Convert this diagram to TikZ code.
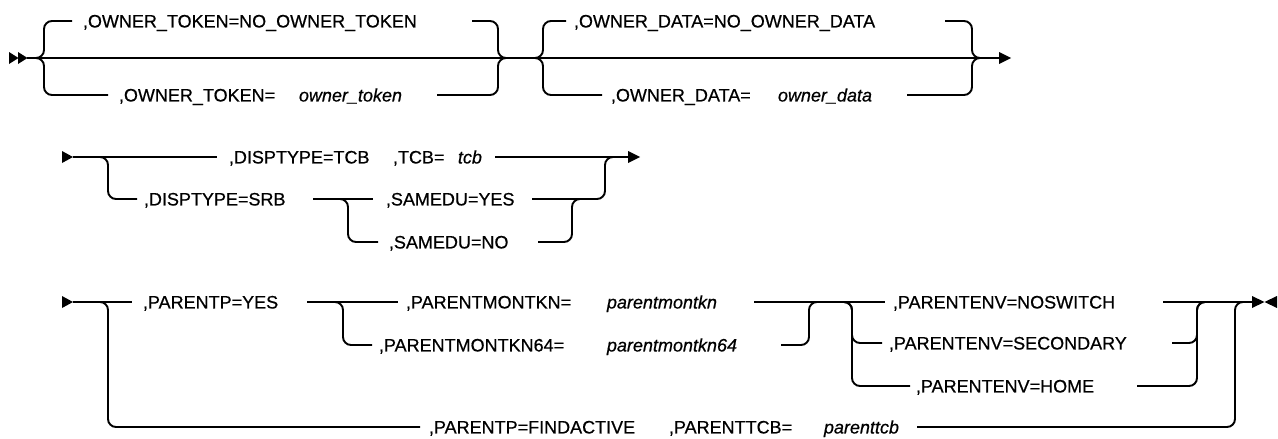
\documentclass[tikz,border=0pt]{standalone}
\usepackage{fontspec}
\setmainfont{Liberation Sans}[FakeBold=0.6]
\begin{document}
\begin{tikzpicture}[x=1pt,y=-1pt,line width=1.9pt,
  rc/.style={rounded corners=8pt},
  kw/.style={anchor=west,inner sep=0pt,text height=12.9pt,text depth=0pt,font=\fontsize{18}{20}\selectfont},
  var/.style={kw,font=\fontsize{18}{20}\selectfont\itshape}]
\useasboundingbox (0,0) rectangle (1278,439);

% ---------- Row 1 ----------
\node[kw] (ot1) at (82,21) {,OWNER\_TOKEN=NO\_OWNER\_TOKEN};
\node[kw] (ot2) at (118,95) {,OWNER\_TOKEN=};
\node[var] (ot2v) at (298,95) {owner\_token};
\node[kw] (od1) at (573,21) {,OWNER\_DATA=NO\_OWNER\_DATA};
\node[kw] (od2) at (610,95) {,OWNER\_DATA=};
\node[var] (od2v) at (777,95) {owner\_data};

\coordinate (r1s) at (27,58);
\coordinate (r1e) at (1001,58);
\fill (9,52) -- (18.5,58) -- (9,64) -- cycle;
\fill (18,52) -- (27.5,58) -- (18,64) -- cycle;
\draw (r1s) -- (r1e);
\fill (999,52) -- (1011,58) -- (999,64) -- cycle;

\draw[rc] (34,58) -| (44,21) -- (72,21);
\draw[rc] (34,58) -| (44,95) -- (108,95);
\draw[rc] (472,21) -| (498,58) -- (508,58);
\draw[rc] (437,95) -| (498,58) -- (508,58);

\draw[rc] (533,58) -| (543,21) -- (566,21);
\draw[rc] (533,58) -| (543,95) -- (602,95);
\draw[rc] (945,21) -| (972,58) -- (982,58);
\draw[rc] (907,95) -| (972,58) -- (982,58);

% ---------- Row 2 ----------
\node[kw] (dt1) at (228,157) {,DISPTYPE=TCB};
\node[kw] (tcbk) at (392,157) {,TCB=};
\node[var] (tcbv) at (457,157) {tcb};
\node[kw] (dt2) at (143,199) {,DISPTYPE=SRB};
\node[kw] (sy) at (385,199) {,SAMEDU=YES};
\node[kw] (sn) at (388,242) {,SAMEDU=NO};

\fill (62,151) -- (73,157) -- (62,163) -- cycle;
\draw (73,157) -- (217,157);
\draw (495,157) -- (630,157);
\fill (628,151) -- (640,157) -- (628,163) -- cycle;
\draw[rc] (98,157) -| (108,199) -- (137,199);
\draw (313,199) -- (373,199);
\draw[rc] (338,199) -| (348,242) -- (378,242);
\draw[rc] (532,199) -| (605,157) -- (615,157);
\draw[rc] (538,242) -| (572,199) -- (582,199);

% ---------- Row 3 ----------
\node[kw] (py) at (142,302) {,PARENTP=YES};
\node[kw] (pm) at (405,302) {,PARENTMONTKN=};
\node[var] (pmv) at (606,302) {parentmontkn};
\node[kw] (pm64) at (378,345) {,PARENTMONTKN64=};
\node[var] (pm64v) at (606,345) {parentmontkn64};
\node[kw] (pe1) at (892,302) {,PARENTENV=NOSWITCH};
\node[kw] (pe2) at (888,343) {,PARENTENV=SECONDARY};
\node[kw] (pe3) at (915,386) {,PARENTENV=HOME};
\node[kw] (pf) at (428,427) {,PARENTP=FINDACTIVE};
\node[kw] (ptk) at (668,427) {,PARENTTCB=};
\node[var] (ptv) at (823,427) {parenttcb};

\fill (62,296) -- (73,302) -- (62,308) -- cycle;
\draw (73,302) -- (132,302);
\draw[rc] (98,302) -| (108,427) -- (420,427);
\draw (307,302) -- (398,302);
\draw[rc] (333,302) -| (343,345) -- (372,345);
\draw (754,302) -- (885,302);
\draw[rc] (781,345) -| (809,302) -- (819,302);
\draw[rc] (842,302) -| (852,343) -- (882,343);
\draw[rc] (842,302) -| (852,386) -- (910,386);
\draw (1163,302) -- (1254,302);
\draw[rc] (1172,343) -| (1197,302) -- (1207,302);
\draw[rc] (1137,386) -| (1197,302) -- (1207,302);
\draw[rc] (917,427) -| (1235,302) -- (1245,302);
\fill (1252,296) -- (1264.5,302) -- (1252,308) -- cycle;
\fill (1277,296) -- (1264.5,302) -- (1277,308) -- cycle;
\end{tikzpicture}
\end{document}
